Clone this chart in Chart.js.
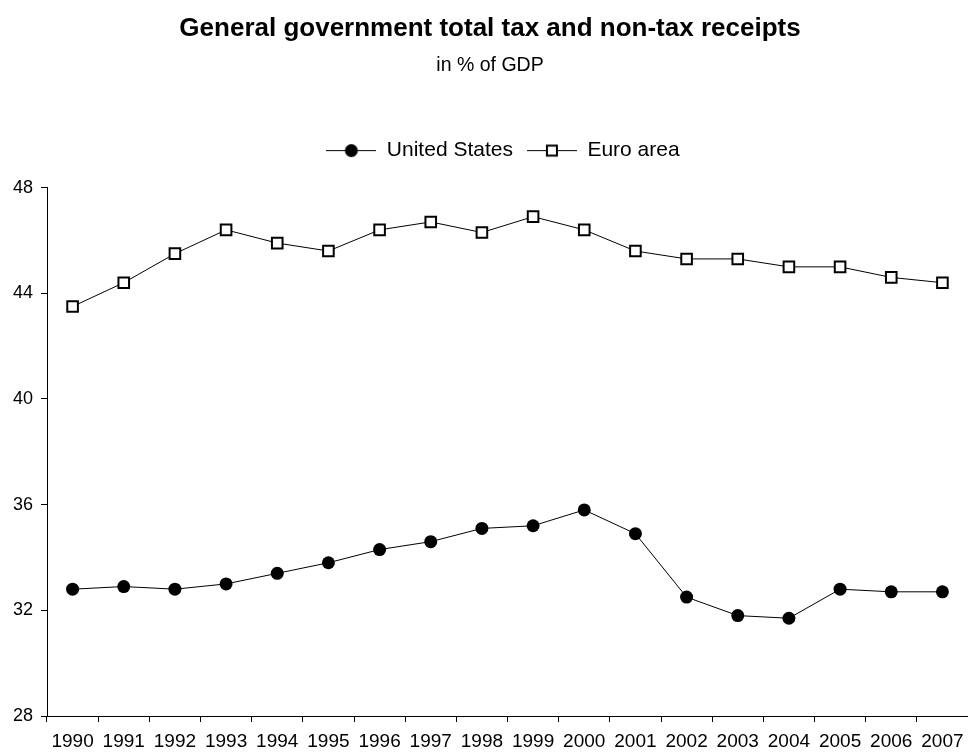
<!DOCTYPE html>
<html>
<head>
<meta charset="utf-8">
<script src="https://cdn.jsdelivr.net/npm/chart.js@4"></script>
<style>
  html, body { margin: 0; padding: 0; background: #fff; }
  #wrap { width: 968px; height: 754px; }
</style>
</head>
<body>
<div id="wrap"><canvas id="lineCanvas"></canvas></div>
<script>
var years = ["1990", "1991", "1992", "1993", "1994", "1995", "1996", "1997", "1998",
             "1999", "2000", "2001", "2002", "2003", "2004", "2005", "2006", "2007"];
var unitedStates = [32.8, 32.9, 32.8, 33.0, 33.4, 33.8, 34.3, 34.6, 35.1,
                    35.2, 35.8, 34.9, 32.5, 31.8, 31.7, 32.8, 32.7, 32.7];
var euroArea = [43.5, 44.4, 45.5, 46.4, 45.9, 45.6, 46.4, 46.7, 46.3,
                46.9, 46.4, 45.6, 45.3, 45.3, 45.0, 45.0, 44.6, 44.4];
var yTicks = [28, 32, 36, 40, 44, 48];

var FONT = "'Liberation Sans', Arial, sans-serif";

// legend swatch: a short line with the marker on it
function legendIcon(kind) {
  var c = document.createElement("canvas");
  c.width = 50; c.height = 16;
  var g = c.getContext("2d");
  g.strokeStyle = "#000"; g.lineWidth = 1;
  g.beginPath(); g.moveTo(0, 8.5); g.lineTo(50, 8.5); g.stroke();
  if (kind === "circle") {
    g.fillStyle = "#000";
    g.beginPath(); g.arc(25, 8.5, 6.5, 0, Math.PI * 2); g.fill();
  } else {
    g.fillStyle = "#fff"; g.lineWidth = 2;
    g.fillRect(20, 3.5, 10, 10);
    g.strokeRect(20, 3.5, 10, 10);
  }
  return c;
}
var icons = [legendIcon("circle"), legendIcon("rect")];

// the legend sits a bit right of the page centre, over the plot
var legendNudge = {
  id: "legendNudge",
  afterLayout: function (chart) {
    chart.legend.left += 13;
    chart.legend.right += 13;
  }
};

var ctx = document.getElementById("lineCanvas");
var chart = new Chart(ctx, {
  type: "line",
  data: {
    labels: years,
    datasets: [{
      label: "United States",
      data: unitedStates,
      borderColor: "#000",
      backgroundColor: "#000",
      borderWidth: 1,
      pointStyle: "circle",
      pointRadius: 6.5,
      pointBorderWidth: 0,
      pointBackgroundColor: "#000",
      tension: 0
    }, {
      label: "Euro area",
      data: euroArea,
      borderColor: "#000",
      backgroundColor: "#fff",
      borderWidth: 1,
      pointStyle: "rect",
      pointRadius: 7.5,
      pointBorderWidth: 2,
      pointBorderColor: "#000",
      pointBackgroundColor: "#fff",
      tension: 0
    }]
  },
  plugins: [legendNudge],
  options: {
    responsive: true,
    maintainAspectRatio: false,
    animation: false,
    layout: { autoPadding: false, padding: { left: 12, right: 0, top: 0, bottom: 0 } },
    plugins: {
      title: {
        display: true,
        text: "General government total tax and non-tax receipts",
        color: "#000",
        font: { family: FONT, size: 26, weight: "bold" },
        padding: { top: 13, bottom: 10 }
      },
      subtitle: {
        display: true,
        text: "in % of GDP",
        color: "#000",
        font: { family: FONT, size: 19.5 },
        padding: { top: 0, bottom: 48 }
      },
      legend: {
        position: "top",
        labels: {
          color: "#000",
          font: { family: FONT, size: 21 },
          usePointStyle: true,
          pointStyleWidth: 50,
          padding: 14,
          generateLabels: function (chart) {
            return chart.data.datasets.map(function (ds, i) {
              return {
                text: ds.label,
                pointStyle: icons[i],
                fillStyle: "#000",
                strokeStyle: "#000",
                lineWidth: 0,
                hidden: false,
                datasetIndex: i
              };
            });
          }
        }
      },
      tooltip: { enabled: false }
    },
    scales: {
      x: {
        offset: true,
        grid: { offset: true, drawOnChartArea: false, drawTicks: true, tickLength: 6, color: "#000" },
        border: { display: true, color: "#000", width: 1 },
        ticks: { color: "#000", font: { family: FONT, size: 19 }, maxRotation: 0, autoSkip: false, padding: 8 },
        afterFit: function (scale) {
          scale.height = 38;
          // axis runs right to the edge of the page
          scale.paddingLeft = 0;
          scale.paddingRight = 0;
        }
      },
      // empty spacer between the legend and the plot
      gap: {
        type: "category",
        position: "top",
        display: true,
        grid: { display: false },
        border: { display: false },
        ticks: { display: false },
        afterFit: function (scale) {
          scale.height = 17;
          scale.paddingLeft = 0;
          scale.paddingRight = 0;
        }
      },
      y: {
        min: 28,
        max: 48,
        afterBuildTicks: function (scale) {
          scale.ticks = yTicks.map(function (v) { return { value: v }; });
        },
        grid: { drawOnChartArea: false, drawTicks: true, tickLength: 6, color: "#000" },
        border: { display: true, color: "#000", width: 1 },
        ticks: { color: "#000", font: { family: FONT, size: 18 }, padding: 8 },
        afterFit: function (scale) { scale.width = 35; }
      }
    }
  }
});
</script>
</body>
</html>
